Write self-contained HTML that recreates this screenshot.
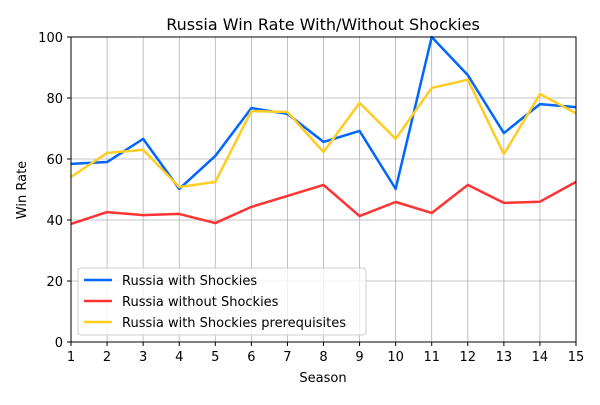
<!DOCTYPE html>
<html><head><meta charset="utf-8"><style>
body{margin:0;background:#fff}
svg text{font-family:"DejaVu Sans","Liberation Sans",sans-serif;fill:#000}
</style></head><body>
<svg id="chart" width="600" height="400" xmlns="http://www.w3.org/2000/svg">
<rect width="600" height="400" fill="#fff"/>
<g id="grid"></g>
<g id="lines"></g>
<rect x="71" y="37" width="505" height="305" fill="none" stroke="#000" stroke-width="1"/>
<g id="ticks"></g>
<text x="323" y="30" font-size="16" text-anchor="middle">Russia Win Rate With/Without Shockies</text>
<text x="323" y="382" font-size="13" text-anchor="middle">Season</text>
<text x="26" y="190" font-size="13" text-anchor="middle" transform="rotate(-90 26 190)">Win Rate</text>
<g>
<rect x="78" y="268" width="288" height="67" rx="3" fill="#fff" fill-opacity="0.8" stroke="#ccc"/>
<line x1="84" y1="280" x2="112" y2="280" stroke="#0066ff" stroke-width="2.5"/>
<text x="122" y="285" font-size="13">Russia with Shockies</text>
<line x1="84" y1="301" x2="112" y2="301" stroke="#ff3333" stroke-width="2.5"/>
<text x="122" y="306" font-size="13">Russia without Shockies</text>
<line x1="84" y1="322" x2="112" y2="322" stroke="#ffcc22" stroke-width="2.5"/>
<text x="122" y="327" font-size="13">Russia with Shockies prerequisites</text>
</g>
</svg>
<script>
const seasons=[1,2,3,4,5,6,7,8,9,10,11,12,13,14,15];
const withShockies=[58.4,59,66.6,50.2,61,76.7,74.8,65.6,69.2,50.2,100,87.5,68.5,78,77];
const withoutShockies=[38.7,42.6,41.6,42,39,44.3,47.9,51.5,41.3,45.9,42.3,51.5,45.6,46,52.5];
const prereqShockies=[54.1,62,63,50.8,52.5,75.7,75.4,62.3,78.4,66.6,83.3,86,61.6,81.3,75];
const yTicks=[0,20,40,60,80,100];
const NS="http://www.w3.org/2000/svg";
const xS=v=>71+(v-1)*(505/14);
const yS=v=>342-v*3.05;
const grid=document.getElementById('grid'),ticks=document.getElementById('ticks'),lines=document.getElementById('lines');
function mk(tag,attrs,parent){const e=document.createElementNS(NS,tag);for(const k in attrs)e.setAttribute(k,attrs[k]);parent.appendChild(e);return e;}
seasons.forEach(s=>{
 const g=mk('line',{x1:xS(s),x2:xS(s),y1:37,y2:342,stroke:'#b0b0b0','stroke-width':0.8},grid);
 
 
 const t=mk('line',{x1:xS(s),x2:xS(s),y1:342,y2:346,stroke:'#000'},ticks);
 
 
 const l=mk('text',{x:xS(s),y:361,'font-size':13,'text-anchor':'middle'},ticks);
 l.textContent=s;
 
 
});
yTicks.forEach(v=>{
 const g=mk('line',{x1:71,x2:576,y1:yS(v),y2:yS(v),stroke:'#b0b0b0','stroke-width':0.8},grid);
 
 
 const t=mk('line',{x1:67,x2:71,y1:yS(v),y2:yS(v),stroke:'#000'},ticks);
 
 
 const l=mk('text',{x:63,y:yS(v)+5,'font-size':13,'text-anchor':'end'},ticks);
 l.textContent=v;
 
 
});
function series(data,color,name){
 const p=mk('polyline',{points:data.map((v,i)=>xS(seasons[i])+','+yS(v)).join(' '),fill:'none',stroke:color,'stroke-width':2.5,'stroke-linejoin':'round'},lines);
 
 
}
series(withShockies,'#0066ff','line-with-shockies');
series(withoutShockies,'#ff3333','line-without-shockies');
series(prereqShockies,'#ffcc22','line-shockies-prerequisites');
</script>
</body></html>
